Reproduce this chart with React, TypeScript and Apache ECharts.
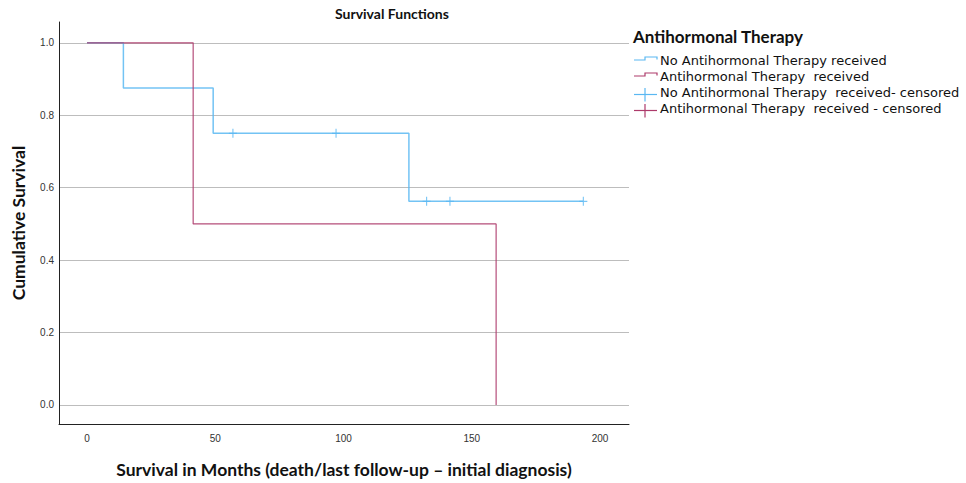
import React, { useEffect, useRef } from "react";
import * as echarts from "echarts";

// Kaplan-Meier step data (months, cumulative survival)
const noTherapyTimes = [0, 14.2, 49.2, 125.5, 193.5];
const noTherapySurv = [1, 0.875, 0.75, 0.5625, 0.5625];
const therapyTimes = [0, 41.4, 159.5];
const therapySurv = [1, 0.5, 0];
// censored observations
const noTherapyCensTimes = [56.9, 97.1, 132.4, 141.5, 193.5];
const noTherapyCensSurv = [0.75, 0.75, 0.5625, 0.5625, 0.5625];
const therapyCensTimes: number[] = [];
const therapyCensSurv: number[] = [];

const xTicks = [0, 50, 100, 150, 200];
const yTicks = [0, 0.2, 0.4, 0.6, 0.8, 1.0];

const seriesNames = [
  "No Antihormonal Therapy received",
  "Antihormonal Therapy  received",
  "No Antihormonal Therapy  received- censored",
  "Antihormonal Therapy  received - censored",
];
const legendTitle = "Antihormonal Therapy";

const BLUE = "#5ab8f2";
const RED = "#ad3a6a";
const FONT = "Lato, 'Open Sans', sans-serif";
const LEGEND_FONT = "'DejaVu Sans', Lato, sans-serif";

const zip = (a: number[], b: number[]) => a.map((v, i) => [v, b[i]]);

export default function App() {
  const ref = useRef<HTMLDivElement>(null);
  useEffect(() => {
    document.body.style.margin = "0";
    if (!ref.current) return;
    const chart = echarts.init(ref.current, undefined, { renderer: "svg" });
    const plus = "path://M5,0L5,10M0,5L10,5";
    const legendY = [59.5, 75.5, 91.5, 107.5];
    const legendGraphics: any[] = [
      {
        type: "text",
        x: 633,
        y: 36,
        style: { text: legendTitle, font: `bold 17px ${FONT}`, fill: "#111", verticalAlign: "middle", lineHeight: 18 },
      },
    ];
    seriesNames.forEach((name, i) => {
      const y = legendY[i];
      const col = i % 2 === 0 ? BLUE : RED;
      if (i < 2) {
        legendGraphics.push({
          type: "polyline",
          shape: { points: [[634, y + 0.5], [645, y + 0.5], [645, y - 2.5], [657, y - 2.5], [657, y]] },
          style: { stroke: col, lineWidth: 1.2, fill: null },
        });
      } else {
        legendGraphics.push(
          { type: "line", shape: { x1: 634, y1: y + 3, x2: 657, y2: y + 3 }, style: { stroke: col, lineWidth: 1.2 } },
          { type: "line", shape: { x1: 645, y1: y - 3.5, x2: 645, y2: y + 10 }, style: { stroke: col, lineWidth: 1.2 } }
        );
      }
      legendGraphics.push({
        type: "text",
        x: 660,
        y: y + 0.5,
        style: { text: name, font: `13px ${LEGEND_FONT}`, fill: "#111", verticalAlign: "middle", lineHeight: 14 },
      });
    });

    chart.setOption({
      animation: false,
      backgroundColor: "#fff",
      title: {
        text: "Survival Functions",
        left: 330,
        top: 1,
        textStyle: { fontFamily: FONT, fontSize: 14, fontWeight: "bold", color: "#111" },
      },
      grid: { left: 59, right: 337, top: 22, bottom: 59, outerBoundsMode: "none", containLabel: false },
      xAxis: {
        type: "value",
        min: -10.9,
        max: 211.3,
        name: "Survival in Months (death/last follow-up \u2013 initial diagnosis)",
        nameLocation: "middle",
        nameGap: 36,
        nameTextStyle: { fontFamily: FONT, fontSize: 17.5, fontWeight: "bold", color: "#111" },
        axisLine: { show: true, onZero: false, lineStyle: { color: "#222", width: 1 } },
        axisTick: { show: false, customValues: xTicks },
        axisLabel: { customValues: xTicks, fontFamily: "'Liberation Sans', Arial", fontSize: 10, color: "#333", margin: 9 },
        splitLine: { show: false },
      },
      yAxis: {
        type: "value",
        min: -0.0525,
        max: 1.0575,
        name: "Cumulative Survival",
        nameLocation: "middle",
        nameGap: 32,
        nameRotate: 90,
        nameTextStyle: { fontFamily: FONT, fontSize: 17.5, fontWeight: "bold", color: "#111" },
        axisLine: { show: true, onZero: false, lineStyle: { color: "#222", width: 1 } },
        axisTick: { show: false, customValues: yTicks },
        axisLabel: {
          customValues: yTicks,
          formatter: (v: number) => v.toFixed(1),
          fontFamily: "'Liberation Sans', Arial",
          fontSize: 10,
          color: "#333",
          margin: 5,
        },
        splitLine: { show: true, lineStyle: { color: "#bdbdbd", width: 1 } },
      },
      graphic: legendGraphics,
      series: [
        {
          name: seriesNames[0],
          type: "line",
          step: "end",
          data: zip(noTherapyTimes, noTherapySurv),
          showSymbol: false,
          symbol: "none",
          lineStyle: { color: BLUE, width: 1.5, opacity: 0.85 },
          z: 2,
        },
        {
          name: seriesNames[1],
          type: "line",
          step: "end",
          data: zip(therapyTimes, therapySurv),
          showSymbol: false,
          symbol: "none",
          lineStyle: { color: RED, width: 1.2, opacity: 0.9 },
          z: 3,
        },
        {
          name: seriesNames[2],
          type: "scatter",
          data: zip(noTherapyCensTimes, noTherapyCensSurv),
          symbol: plus,
          symbolSize: [8, 9],
          itemStyle: { color: "none", borderColor: BLUE, borderWidth: 1.2 },
          z: 4,
        },
        {
          name: seriesNames[3],
          type: "scatter",
          data: zip(therapyCensTimes, therapyCensSurv),
          symbol: plus,
          symbolSize: [8, 9],
          itemStyle: { color: "none", borderColor: RED, borderWidth: 1.2 },
          z: 4,
        },
      ],
    });
    return () => chart.dispose();
  }, []);
  return <div ref={ref} style={{ width: 966, height: 483 }} />;
}
